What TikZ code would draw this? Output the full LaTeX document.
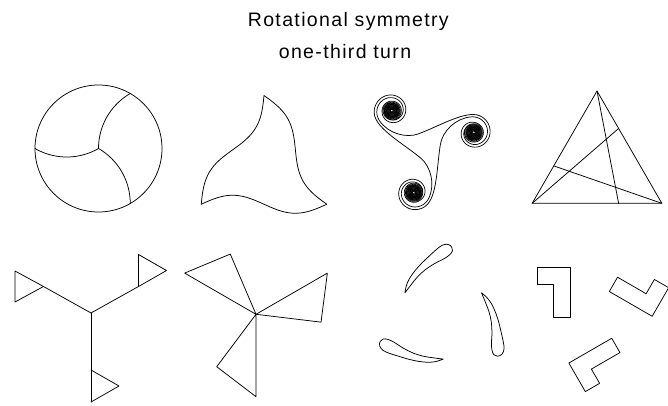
\documentclass[tikz,border=0pt]{standalone}
\usepackage{fontspec}
\newfontfamily\titlefont[LetterSpace=7]{Liberation Sans}
\begin{document}
\begin{tikzpicture}[x=1pt,y=-1pt,
  ln/.style={line width=0.75pt,line join=round,line cap=round},
  sp/.style={line width=0.7pt,line join=round},
  ttl/.style={anchor=base,inner sep=0pt,font=\titlefont\fontsize{19.5}{24}\selectfont}]
\useasboundingbox (0,0) rectangle (668,406);
\fill[white] (0,0) rectangle (668,406);
% title
\node[ttl] (title1) at (348.3,26.7) {Rotational symmetry};
\node[ttl] (title2) at (345,59) {one-third turn};
% 1: circle with three arcs
\coordinate (c1) at (98.5,148.5);
\draw[ln] (c1) circle[radius=63.5];
\foreach \a in {0,120,240}{
  \begin{scope}[rotate around={\a:(c1)}]
    \draw[ln] plot[domain=180:240,samples=30] ({162+63.5*cos(\x)},{148.5+63.5*sin(\x)});
  \end{scope}
}
% 2: curved triangle
\coordinate (c2) at (264,168);
\foreach \a in {0,120,240}{
  \begin{scope}[rotate around={\a:(c2)}]
    \draw[ln] plot[domain=0:1,samples=60] ({201.2+125.57*\x},{204.25-9*sin(360*\x)});
  \end{scope}
}
% 3: triskelion
\coordinate (c3) at (426.5,145.3);
\foreach \a in {0,120,240}{
  \begin{scope}[rotate around={\a:(c3)}]
    \draw[sp] plot[domain=0:2520,samples=361]
      ({391.99+max(16-\x/45,8-(\x-360)/300)*cos(141+\x)},
       {110.79+max(16-\x/45,8-(\x-360)/300)*sin(141+\x)});
    \draw[ln] (379.56,120.86) .. controls (388.6,134.06) and (406.7,138.1) .. (418,134)
              .. controls (438.7,126.5) and (466.1,109.7) .. (479.8,115.8);
    \draw[sp] plot[domain=0:3120,samples=421]
      ({473.64+max(18-\x/45,10-(\x-360)/300)*cos(290+\x)},
       {132.67+max(18-\x/45,10-(\x-360)/300)*sin(290+\x)});
  \end{scope}
}
% 4: triangle with three cevians
\coordinate (a4) at (597,91);
\coordinate (b4) at (532.14,203.35);
\coordinate (d4) at (661.86,203.35);
\coordinate (p4) at (618.62,203.35);
\coordinate (q4) at (618.62,128.45);
\coordinate (r4) at (553.76,165.9);
\draw[ln] (a4) -- (b4) -- (d4) -- cycle;
\draw[ln] (a4) -- (p4);
\draw[ln] (b4) -- (q4);
\draw[ln] (d4) -- (r4);
% 5: three flags
\coordinate (j5) at (91,313);
\coordinate (s5) at (91,402);
\coordinate (u5) at (138.5,286.5);
\coordinate (l5) at (43.5,286.5);
\draw[ln] (j5) -- (s5);
\draw[ln] (91,370) -- (119,386) -- (s5);
\draw[ln] (j5) -- (u5);
\draw[ln] (u5) -- (138.5,254.5) -- (166.5,270.5) -- cycle;
\draw[ln] (j5) -- (l5);
\draw[ln] (l5) -- (15,271) -- (15,302) -- cycle;
% 6: pinwheel of triangles
\coordinate (c6) at (256,314.3);
\foreach \a in {0,120,240}{
  \begin{scope}[rotate around={\a:(c6)}]
    \draw[ln] (c6) -- (256,396.7) -- (216.7,366.7) -- cycle;
  \end{scope}
}
% 7: three commas
\coordinate (c7) at (443.2,314.9);
\foreach \a in {0,120,240}{
  \begin{scope}[shift={(c7)},rotate=\a]
    \draw[ln] plot[smooth,tension=0.6] coordinates {(0,44.2) (-10,42.9) (-20,41.3) (-30,38.2) (-40,33.2) (-49,27.4) (-55,24.6) (-60,24) (-63,26.5) (-63.5,31) (-60,35.6) (-53,38.7) (-45,41.2) (-35,44.2) (-25,46.4) (-14,47.4) (-6,46.3) (0,44.2)};
  \end{scope}
}
% 8: three L shapes
\coordinate (c8) at (597,315.6);
\foreach \a in {0,120,240}{
  \begin{scope}[rotate around={\a:(c8)}]
    \draw[ln] (537,267.5) -- (570,267.5) -- (570,317) -- (553.5,317) -- (553.5,284) -- (537,284) -- cycle;
  \end{scope}
}
\end{tikzpicture}
\end{document}
